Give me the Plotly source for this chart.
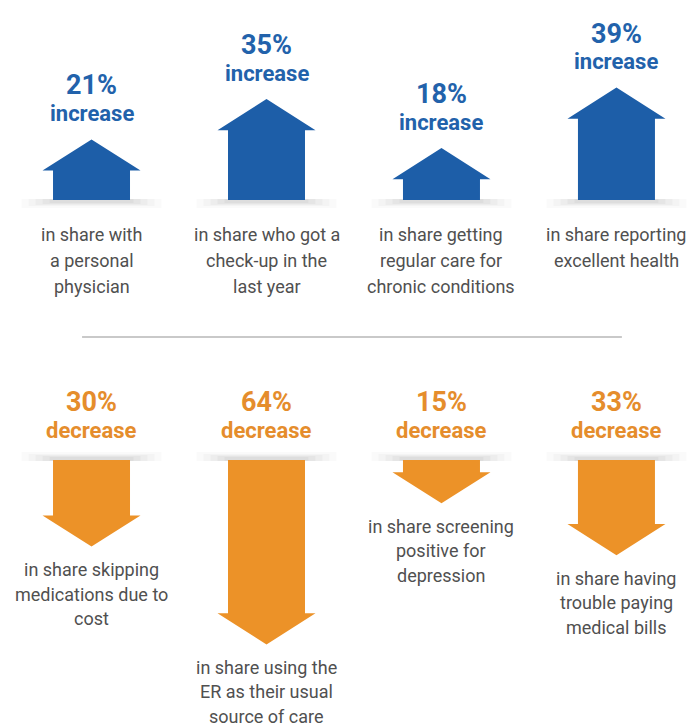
import plotly.graph_objects as go

# ---------------- data ----------------
up_values = [21, 35, 18, 39]
up_labels = ["21%", "35%", "18%", "39%"]
up_word = "increase"
up_desc = [
    ["in share with", "a personal", "physician"],
    ["in share who got a", "check-up in the", "last year"],
    ["in share getting", "regular care for", "chronic conditions"],
    ["in share reporting", "excellent health"],
]

down_values = [30, 64, 15, 33]
down_labels = ["30%", "64%", "15%", "33%"]
down_word = "decrease"
down_desc = [
    ["in share skipping", "medications due to", "cost"],
    ["in share using the", "ER as their usual", "source of care"],
    ["in share screening", "positive for", "depression"],
    ["in share having", "trouble paying", "medical bills"],
]

# ---------------- style ----------------
BLUE = "#1d5ea8"
BLUE_TXT = "#2262ab"
ORANGE = "#ec9228"
ORANGE_TXT = "#e58d2c"
GRAY_TXT = "#505050"
FONT = "Roboto"

W, H = 691, 728
cols = list(range(4))
HEAD_H = 10.8      # arrow head height (y units)
HEAD_HW = 0.28     # half width of head (x units)
SHAFT_HW = 0.22    # half width of shaft (x units)
DOWN_TOP = -90.3   # top of down arrows (y units)

fig = go.Figure()

def up_poly(c, v):
    xs = [c - SHAFT_HW, c - SHAFT_HW, c - HEAD_HW, c, c + HEAD_HW, c + SHAFT_HW, c + SHAFT_HW, c - SHAFT_HW]
    ys = [0, v - HEAD_H, v - HEAD_H, v, v - HEAD_H, v - HEAD_H, 0, 0]
    return xs, ys

def down_poly(c, v):
    t = DOWN_TOP
    xs = [c - SHAFT_HW, c - SHAFT_HW, c - HEAD_HW, c, c + HEAD_HW, c + SHAFT_HW, c + SHAFT_HW, c - SHAFT_HW]
    ys = [t, t - v + HEAD_H, t - v + HEAD_H, t - v, t - v + HEAD_H, t - v + HEAD_H, t, t]
    return xs, ys

shapes = []
# soft shadows (layered, very transparent)
def shadow(c, yv, up=True):
    layers = [(0.40, 0.018, 8), (0.36, 0.022, 6), (0.32, 0.026, 5), (0.28, 0.03, 4), (0.24, 0.03, 3)]
    for hw, op, h in layers:
        if up:
            a, b = -h, 1
        else:
            a, b = -1, h
        shapes.append(dict(type="rect", xref="x", yref="y", layer="below",
                           x0=c - hw, x1=c + hw, ysizemode="pixel", yanchor=yv,
                           y0=a, y1=b, line=dict(width=0),
                           fillcolor=f"rgba(0,0,0,{op})"))

for c, v in zip(cols, up_values):
    xs, ys = up_poly(c, v)
    fig.add_trace(go.Scatter(x=xs, y=ys, mode="lines", fill="toself",
                             fillcolor=BLUE, line=dict(width=0, color=BLUE),
                             hoverinfo="skip", showlegend=False))
    shadow(c, 0, up=True)

for c, v in zip(cols, down_values):
    xs, ys = down_poly(c, v)
    fig.add_trace(go.Scatter(x=xs, y=ys, mode="lines", fill="toself",
                             fillcolor=ORANGE, line=dict(width=0, color=ORANGE),
                             hoverinfo="skip", showlegend=False))
    shadow(c, DOWN_TOP, up=False)

# divider line
shapes.append(dict(type="line", xref="x", yref="y", x0=-0.054, x1=3.031,
                   y0=-47.6, y1=-47.6, line=dict(color="#c9c9c9", width=2)))

ann = []
def txt(x, y, s, size, color, bold=False, yshift=0):
    ann.append(dict(x=x, y=y, xref="x", yref="y", text=s, showarrow=False,
                    xanchor="center", yanchor="middle", yshift=yshift,
                    font=dict(family=FONT, size=size, color=color,
                              weight=700 if bold else 400)))

for c, v, lab, desc in zip(cols, up_values, up_labels, up_desc):
    txt(c, v, lab, 27, BLUE_TXT, True, 54)
    txt(c, v, up_word, 22, BLUE_TXT, True, 26)
    for i, line in enumerate(desc):
        txt(c, 0, line, 18, GRAY_TXT, False, -35 - 26 * i)

for c, v, lab, desc in zip(cols, down_values, down_labels, down_desc):
    txt(c, DOWN_TOP, lab, 27, ORANGE_TXT, True, 58)
    txt(c, DOWN_TOP, down_word, 22, ORANGE_TXT, True, 30)
    for i, line in enumerate(desc):
        txt(c, DOWN_TOP - v, line, 18, GRAY_TXT, False, -23 - 24.5 * i)

fig.update_layout(
    width=W, height=H, margin=dict(l=0, r=0, t=0, b=0),
    paper_bgcolor="white", plot_bgcolor="white",
    xaxis=dict(range=[-0.523, 3.426], visible=False, fixedrange=True),
    yaxis=dict(range=[-183.3, 69.4], visible=False, fixedrange=True),
    shapes=shapes, annotations=ann, showlegend=False,
)

fig.write_html("out.html")
